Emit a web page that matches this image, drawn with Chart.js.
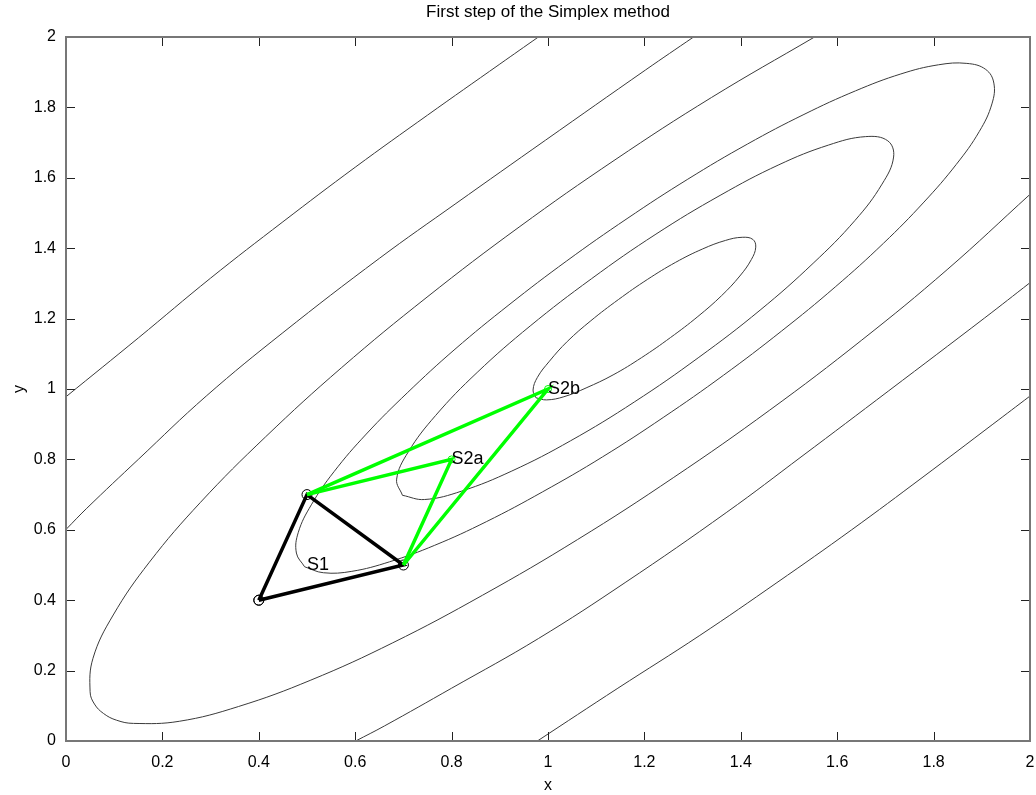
<!DOCTYPE html>
<html lang="en">
<head>
<meta charset="UTF-8">
<title>First step of the Simplex method</title>
<script src="https://cdn.jsdelivr.net/npm/chart.js@4"></script>
<style>
  html, body { margin: 0; padding: 0; background: #fff; overflow: hidden; }
  #wrap { width: 1036px; height: 795px; }
  canvas { display: block; }
</style>
</head>
<body>
<div id="wrap"><canvas id="chart"></canvas></div>
<script>
// contour lines, [x, y] points
const contourA = [[0, 0.978], [0.15, 1.145], [0.30, 1.315], [0.45, 1.475], [0.60, 1.63], [0.75, 1.778], [0.90, 1.923], [0.98, 2.0]];
const contourB = [[0, 0.601], [0.043, 0.661], [0.15, 0.80], [0.291, 0.98], [0.45, 1.16], [0.65, 1.371], [0.809, 1.527], [0.995, 1.707], [1.202, 1.906], [1.302, 2.0]];
const contourC = [[1.553, 2.0], [1.339, 1.828], [1.139, 1.651], [0.94, 1.46], [0.749, 1.261], [0.572, 1.061], [0.414, 0.864], [0.279, 0.678], [0.173, 0.508], [0.098, 0.358], [0.056, 0.235], [0.050, 0.14], [0.059, 0.105], [0.078, 0.078], [0.105, 0.059], [0.14, 0.050], [0.235, 0.056], [0.358, 0.098], [0.508, 0.173], [0.678, 0.279], [0.864, 0.414], [1.061, 0.572], [1.261, 0.749], [1.46, 0.94], [1.651, 1.139], [1.828, 1.339], [2.0, 1.553]];
const contourD = [[0.495, 0.495], [0.478, 0.534], [0.482, 0.593], [0.509, 0.671], [0.556, 0.765], [0.623, 0.872], [0.708, 0.989], [0.807, 1.113], [0.919, 1.239], [1.039, 1.364], [1.164, 1.484], [1.290, 1.596], [1.414, 1.696], [1.531, 1.780], [1.638, 1.847], [1.732, 1.895], [1.810, 1.921], [1.869, 1.925], [1.908, 1.908], [1.925, 1.869], [1.921, 1.810], [1.895, 1.732], [1.847, 1.638], [1.780, 1.531], [1.696, 1.414], [1.596, 1.290], [1.484, 1.164], [1.364, 1.039], [1.239, 0.919], [1.113, 0.807], [0.989, 0.708], [0.872, 0.623], [0.765, 0.556], [0.671, 0.509], [0.593, 0.482], [0.534, 0.478], [0.495, 0.495]];
const contourE = [[0.698, 0.698], [0.686, 0.744], [0.710, 0.821], [0.767, 0.925], [0.853, 1.047], [0.963, 1.179], [1.090, 1.313], [1.224, 1.440], [1.357, 1.550], [1.479, 1.637], [1.582, 1.693], [1.659, 1.717], [1.705, 1.705], [1.717, 1.659], [1.693, 1.582], [1.637, 1.479], [1.550, 1.357], [1.440, 1.224], [1.313, 1.090], [1.179, 0.963], [1.047, 0.853], [0.925, 0.767], [0.821, 0.710], [0.744, 0.686], [0.698, 0.698]];
const contourF = [[0.975, 0.975], [0.969, 0.997], [0.978, 1.033], [1.003, 1.079], [1.040, 1.135], [1.089, 1.194], [1.146, 1.254], [1.206, 1.311], [1.265, 1.360], [1.321, 1.398], [1.368, 1.422], [1.403, 1.431], [1.425, 1.425], [1.431, 1.403], [1.422, 1.368], [1.398, 1.321], [1.360, 1.265], [1.311, 1.206], [1.254, 1.146], [1.194, 1.089], [1.135, 1.040], [1.079, 1.003], [1.033, 0.978], [0.997, 0.969], [0.975, 0.975]];
const contourG = [[0.601, 0], [0.661, 0.043], [0.80, 0.15], [0.98, 0.291], [1.16, 0.45], [1.371, 0.65], [1.527, 0.809], [1.707, 0.995], [1.906, 1.202], [2.0, 1.302]];
const contourH = [[0.978, 0], [1.145, 0.15], [1.315, 0.30], [1.475, 0.45], [1.63, 0.60], [1.778, 0.75], [1.923, 0.90], [2.0, 0.98]];

// simplex steps
const simplexS1 = [[0.4, 0.4], [0.5, 0.7], [0.7, 0.5], [0.4, 0.4]];
const stepS2a = [[0.5, 0.7], [0.8, 0.8], [0.7, 0.5]];
const stepS2b = [[0.5, 0.7], [1.0, 1.0], [0.7, 0.5]];
const newPoints = [[0.8, 0.8], [1.0, 1.0]];
const labelNames = ['S1', 'S2a', 'S2b'];
const labelPoints = [[0.5, 0.5], [0.8, 0.8], [1.0, 1.0]];

const tickLabels = ['0', '0.2', '0.4', '0.6', '0.8', '1', '1.2', '1.4', '1.6', '1.8', '2'];

const FONT = "'Liberation Sans', Arial, Helvetica, sans-serif";
const toXY = arr => arr.map(p => ({ x: p[0], y: p[1] }));

const contours = [contourA, contourB, contourC, contourD, contourE, contourF, contourG, contourH];
const datasets = contours.map(c => ({
    data: toXY(c),
    showLine: true,
    borderColor: '#3a3a3a',
    borderWidth: 1,
    pointRadius: 0,
    tension: 0.4,
    order: 4
}));

datasets.push({
    data: toXY(simplexS1),
    showLine: true,
    borderColor: '#000',
    borderWidth: 3.5,
    pointRadius: 5,
    pointBackgroundColor: 'rgba(0,0,0,0)',
    pointBorderColor: '#000',
    pointBorderWidth: 1,
    order: 2
});
[stepS2a, stepS2b].forEach(s => datasets.push({
    data: toXY(s),
    showLine: true,
    borderColor: '#00ff00',
    borderWidth: 3.5,
    pointRadius: 0,
    order: 1
}));
datasets.push({
    data: toXY(newPoints),
    showLine: false,
    pointRadius: 3.5,
    pointBackgroundColor: 'rgba(0,0,0,0)',
    pointBorderColor: '#00ff00',
    pointBorderWidth: 1,
    order: 0
});

// box with inward ticks on all sides, and the point labels
const framePlugin = {
    id: 'frame',
    afterDatasetsDraw(chart) {
        const { ctx, chartArea: a, scales: { x, y } } = chart;
        ctx.save();
        ctx.strokeStyle = '#222';
        ctx.lineWidth = 1;
        ctx.beginPath();
        x.ticks.forEach(t => {
            const px = Math.round(x.getPixelForValue(t.value)) + 0.5;
            ctx.moveTo(px, a.bottom); ctx.lineTo(px, a.bottom - 9);
            ctx.moveTo(px, a.top); ctx.lineTo(px, a.top + 9);
        });
        y.ticks.forEach(t => {
            const py = Math.round(y.getPixelForValue(t.value)) + 0.5;
            ctx.moveTo(a.left, py); ctx.lineTo(a.left + 9, py);
            ctx.moveTo(a.right, py); ctx.lineTo(a.right - 9, py);
        });
        ctx.stroke();
        ctx.strokeStyle = '#777';
        ctx.lineWidth = 2;
        ctx.strokeRect(a.left, a.top, a.right - a.left, a.bottom - a.top);

        ctx.fillStyle = '#000';
        ctx.font = '18px ' + FONT;
        ctx.textAlign = 'left';
        ctx.textBaseline = 'middle';
        labelNames.forEach((name, i) => {
            ctx.fillText(name, x.getPixelForValue(labelPoints[i][0]), y.getPixelForValue(labelPoints[i][1]));
        });
        ctx.restore();
    }
};

new Chart(document.getElementById('chart'), {
    type: 'scatter',
    data: { datasets },
    plugins: [framePlugin],
    options: {
        responsive: true,
        maintainAspectRatio: false,
        animation: false,
        layout: { padding: { left: 0, right: 4, top: 0, bottom: 0 } },
        plugins: {
            legend: { display: false },
            tooltip: { enabled: false },
            title: {
                display: true,
                fullSize: false,
                text: 'First step of the Simplex method',
                color: '#000',
                font: { family: FONT, size: 17, weight: 'normal' },
                padding: { top: 2, bottom: 14.6 }
            }
        },
        scales: {
            x: {
                type: 'linear',
                min: 0,
                max: 2,
                // tick marks are drawn by the frame plugin; tickLength only sets the label gap
                grid: { display: false, drawTicks: true, tickLength: 12 },
                border: { display: false },
                ticks: {
                    stepSize: 0.2,
                    autoSkip: false,
                    maxRotation: 0,
                    padding: 0,
                    color: '#000',
                    font: { family: FONT, size: 16 },
                    callback: (v, i) => tickLabels[i]
                },
                title: { display: true, text: 'x', color: '#000', font: { family: FONT, size: 16, lineHeight: 1 }, padding: { top: 0, bottom: 1 } },
                afterFit(s) { s.height = 54; }
            },
            y: {
                type: 'linear',
                min: 0,
                max: 2,
                grid: { display: false, drawTicks: true, tickLength: 10 },
                border: { display: false },
                ticks: {
                    stepSize: 0.2,
                    autoSkip: false,
                    padding: 0,
                    color: '#000',
                    font: { family: FONT, size: 16 },
                    callback: (v, i) => tickLabels[i]
                },
                title: { display: true, text: 'y', color: '#000', font: { family: FONT, size: 16 }, padding: { top: 10, bottom: 0 } },
                afterFit(s) { s.width = 66; }
            }
        }
    }
});
</script>
</body>
</html>
